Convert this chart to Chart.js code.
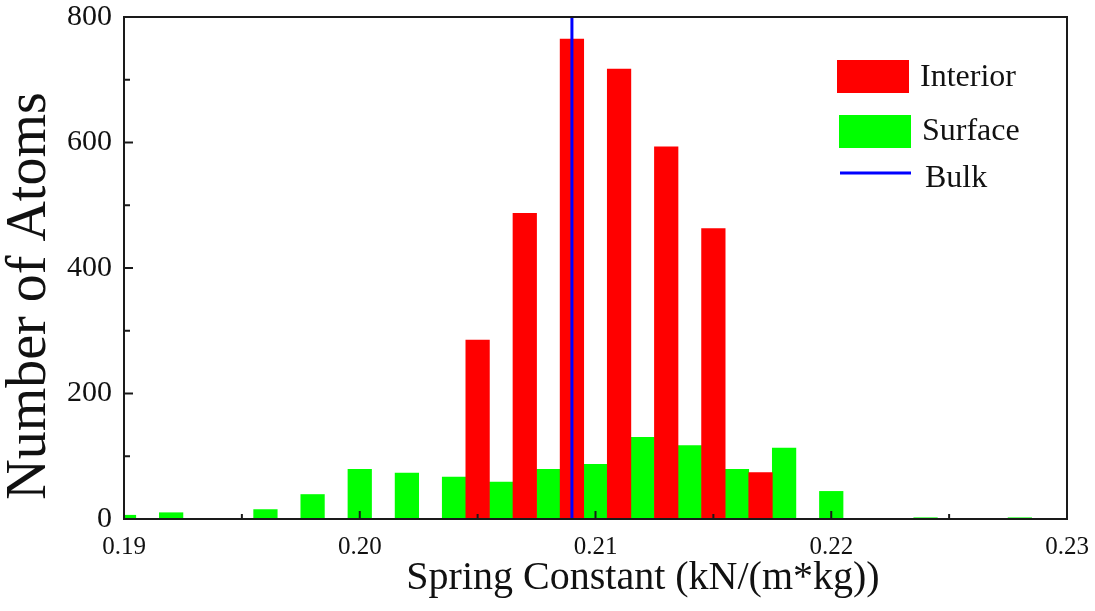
<!DOCTYPE html>
<html>
<head>
<meta charset="utf-8">
<script src="https://cdn.jsdelivr.net/npm/chart.js@4"></script>
<style>
  html, body { margin: 0; padding: 0; background: #fff; }
  #wrap { width: 1095px; height: 611px; }
</style>
</head>
<body>
<div id="wrap"><canvas id="myChart" width="1095" height="611"></canvas></div>
<script>
// histogram bins (spring constant, kN/(m*kg)) and atom counts
const surfaceK = [0.190, 0.192, 0.194, 0.196, 0.198, 0.200, 0.202, 0.204, 0.206, 0.208,
                  0.210, 0.212, 0.214, 0.216, 0.218, 0.220, 0.222, 0.224, 0.226, 0.228];
const surfaceCount = [6, 10, 0, 15, 39, 79, 73, 67, 59, 79,
                      87, 130, 117, 79, 113, 44, 0, 2, 0, 2];
const interiorK = [0.205, 0.207, 0.209, 0.211, 0.213, 0.215, 0.217];
const interiorCount = [285, 487, 765, 717, 593, 463, 74];
const bulkK = 0.209;
const yRange = [0, 800];
const xTitle = 'Spring Constant (kN/(m*kg))';
const yTitle = 'Number of Atoms';

const serif = '"Liberation Serif", "Times New Roman", serif';
const axisColor = '#1a1a1a';

// inward tick marks, frame, axis titles and the legend box
const decor = {
    id: 'decor',
    afterDatasetsDraw(chart) {
        const ctx = chart.ctx;
        const a = chart.chartArea;
        const xs = chart.scales.x, ys = chart.scales.y;
        ctx.save();
        ctx.strokeStyle = axisColor;
        ctx.lineWidth = 2;
        // x ticks (major + minor halfway)
        xs.ticks.forEach((t, i) => {
            const px = xs.getPixelForValue(t.value);
            ctx.beginPath(); ctx.moveTo(px, a.bottom); ctx.lineTo(px, a.bottom - 8); ctx.stroke();
            if (i < xs.ticks.length - 1) {
                const mx = xs.getPixelForValue((t.value + xs.ticks[i + 1].value) / 2);
                ctx.beginPath(); ctx.moveTo(mx, a.bottom); ctx.lineTo(mx, a.bottom - 5); ctx.stroke();
            }
        });
        ys.ticks.forEach((t, i) => {
            const py = ys.getPixelForValue(t.value);
            ctx.beginPath(); ctx.moveTo(a.left, py); ctx.lineTo(a.left + 9, py); ctx.stroke();
            if (i < ys.ticks.length - 1) {
                const my = ys.getPixelForValue((t.value + ys.ticks[i + 1].value) / 2);
                ctx.beginPath(); ctx.moveTo(a.left, my); ctx.lineTo(a.left + 6, my); ctx.stroke();
            }
        });
        ctx.strokeRect(a.left, a.top, a.right - a.left, a.bottom - a.top);

        // axis titles (sit a bit off-centre in the original)
        ctx.fillStyle = '#111';
        ctx.textAlign = 'center';
        ctx.textBaseline = 'middle';
        ctx.font = '40px ' + serif;
        ctx.fillText(xTitle, 643, 578);
        ctx.save();
        ctx.translate(30, 296);
        ctx.rotate(-Math.PI / 2);
        ctx.font = '56px ' + serif;
        ctx.fillText(yTitle, 0, 0);
        ctx.restore();

        // legend
        const ds = chart.data.datasets;
        const lx = a.left + 713, tx = a.left + 796;
        ctx.textAlign = 'left';
        ctx.font = '32px ' + serif;
        ctx.fillStyle = ds[0].backgroundColor;
        ctx.fillRect(lx, a.top + 43, 72, 33);
        ctx.fillStyle = ds[1].backgroundColor;
        ctx.fillRect(lx + 2, a.top + 98, 72, 33);
        ctx.strokeStyle = ds[2].borderColor;
        ctx.lineWidth = 3;
        ctx.beginPath(); ctx.moveTo(lx + 3, a.top + 156); ctx.lineTo(lx + 74, a.top + 156); ctx.stroke();
        ctx.fillStyle = '#111';
        ctx.fillText(ds[0].label, tx, a.top + 61);
        ctx.fillText(ds[1].label, tx + 2, a.top + 115);
        ctx.fillText(ds[2].label, tx + 5, a.top + 162);
        ctx.restore();
    }
};

const config = {
    data: {
        datasets: [
            {
                type: 'bar',
                label: 'Interior',
                data: interiorK.map((k, i) => ({ x: k, y: interiorCount[i] })),
                backgroundColor: '#ff0000',
                grouped: false,
                barPercentage: 1,
                categoryPercentage: 1,
                order: 2
            },
            {
                type: 'bar',
                label: 'Surface',
                data: surfaceK.map((k, i) => ({ x: k, y: surfaceCount[i] })),
                backgroundColor: '#00ff00',
                grouped: false,
                barPercentage: 1,
                categoryPercentage: 1,
                order: 2
            },
            {
                type: 'line',
                label: 'Bulk',
                data: yRange.map(v => ({ x: bulkK, y: v })),
                borderColor: '#0000ff',
                borderWidth: 3,
                pointRadius: 0,
                order: 0
            }
        ]
    },
    options: {
        responsive: false,
        animation: false,
        layout: { padding: { left: 0, top: 17, right: 28, bottom: 0 } },
        plugins: {
            legend: { display: false },
            tooltip: { enabled: false }
        },
        scales: {
            x: {
                type: 'linear',
                offset: false,
                min: 0.19,
                max: 0.23,
                grid: { display: false, drawTicks: false, offset: false },
                border: { display: false },
                ticks: {
                    stepSize: 0.01,
                    padding: 13,
                    color: '#111',
                    font: { family: serif, size: 25 },
                    callback: v => v.toFixed(2)
                },
                afterFit: s => {
                    s.height = 92;
                    s.paddingLeft = 0; s.paddingRight = 0;
                }
            },
            y: {
                min: 0,
                max: 800,
                grid: { display: false, drawTicks: false },
                border: { display: false },
                ticks: {
                    stepSize: 200,
                    padding: 12,
                    color: '#111',
                    font: { family: serif, size: 30 }
                },
                afterFit: s => {
                    s.width = 124;
                    s.paddingTop = 0; s.paddingBottom = 0;
                }
            }
        }
    },
    plugins: [decor]
};

const ctx = document.getElementById('myChart').getContext('2d');
const myChart = new Chart(ctx, config);
</script>
</body>
</html>
